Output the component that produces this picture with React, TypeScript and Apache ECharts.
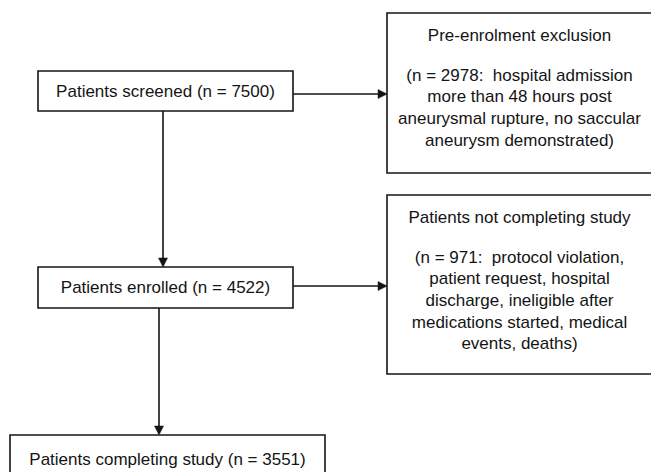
import React, { useEffect, useRef } from "react";
import * as echarts from "echarts";

// ---- data ----
const stageLabels = ["Patients screened", "Patients enrolled", "Patients completing study"];
const stageCounts = [7500, 4522, 3551];
const exclusionTitles = ["Pre-enrolment exclusion", "Patients not completing study"];
const exclusionCounts = [2978, 971];
const exclusionReasonLines = [
  ["hospital admission", "more than 48 hours post", "aneurysmal rupture, no saccular", "aneurysm demonstrated"],
  ["protocol violation,", "patient request, hospital", "discharge, ineligible after", "medications started, medical", "events, deaths"],
];

// ---- layout (positions / styles) ----
const stageBoxes = [
  { x: 38, y: 71, w: 255, h: 40, ty: 20 },
  { x: 38, y: 267, w: 255, h: 41, ty: 20.5 },
  { x: 10, y: 435, w: 315, h: 60, ty: 24 },
];
const exclusionBoxes = [
  { x: 387, y: 13, w: 268, h: 160 },
  { x: 387, y: 195, w: 268, h: 179 },
];
const FONT = '17px "Liberation Sans", Arial, sans-serif';
const INK = "#141414";
const LW = 1.6;

function arrow(x1: number, y1: number, x2: number, y2: number): any[] {
  const len = 9;
  const hw = 4.5;
  const dx = x2 - x1;
  const dy = y2 - y1;
  const d = Math.sqrt(dx * dx + dy * dy);
  const ux = dx / d;
  const uy = dy / d;
  const bx = x2 - ux * len;
  const by = y2 - uy * len;
  return [
    {
      type: "line",
      shape: { x1, y1, x2: bx, y2: by },
      style: { stroke: INK, lineWidth: LW },
    },
    {
      type: "polygon",
      shape: {
        points: [
          [x2, y2],
          [bx - uy * hw, by + ux * hw],
          [bx + uy * hw, by - ux * hw],
        ],
      },
      style: { fill: INK, stroke: INK, lineWidth: 0.5 },
    },
  ];
}

export default function App() {
  const ref = useRef<HTMLDivElement>(null);
  useEffect(() => {
    document.body.style.margin = "0";
    if (!ref.current) return;
    const chart = echarts.init(ref.current, null, { renderer: "svg" });
    const elements: any[] = [];

    stageBoxes.forEach((b, i) => {
      elements.push({
        type: "rect",
        shape: { x: b.x, y: b.y, width: b.w, height: b.h },
        style: { fill: "#fff", stroke: INK, lineWidth: LW },
      });
      elements.push({
        type: "text",
        x: b.x + b.w / 2,
        y: b.y + b.ty,
        style: {
          text: `${stageLabels[i]} (n = ${stageCounts[i]})`,
          font: FONT,
          fill: INK,
          align: "center",
          verticalAlign: "middle",
        },
      });
    });

    exclusionBoxes.forEach((b, i) => {
      elements.push({
        type: "rect",
        shape: { x: b.x, y: b.y, width: b.w, height: b.h },
        style: { fill: "#fff", stroke: INK, lineWidth: LW },
      });
      const cx = 519.5;
      elements.push({
        type: "text",
        x: cx,
        y: b.y + 22,
        style: {
          text: exclusionTitles[i],
          font: FONT,
          fill: INK,
          align: "center",
          verticalAlign: "middle",
        },
      });
      const lines = exclusionReasonLines[i].slice();
      lines[0] = `(n = ${exclusionCounts[i]}:  ${lines[0]}`;
      lines[lines.length - 1] = lines[lines.length - 1] + ")";
      lines.forEach((ln, k) => {
        elements.push({
          type: "text",
          x: cx,
          y: b.y + 62 + k * 21.7,
          style: {
            text: ln,
            font: FONT,
            fill: INK,
            align: "center",
            verticalAlign: "middle",
          },
        });
      });
    });

    elements.push(...arrow(163, 111, 163, 267));
    elements.push(...arrow(159, 308, 159, 435));
    elements.push(...arrow(293, 94, 387, 94));
    elements.push(...arrow(293, 286, 387, 286));

    chart.setOption({
      animation: false,
      backgroundColor: "#ffffff",
      graphic: { elements },
    });
    return () => chart.dispose();
  }, []);
  return <div ref={ref} style={{ width: 651, height: 472 }} />;
}
